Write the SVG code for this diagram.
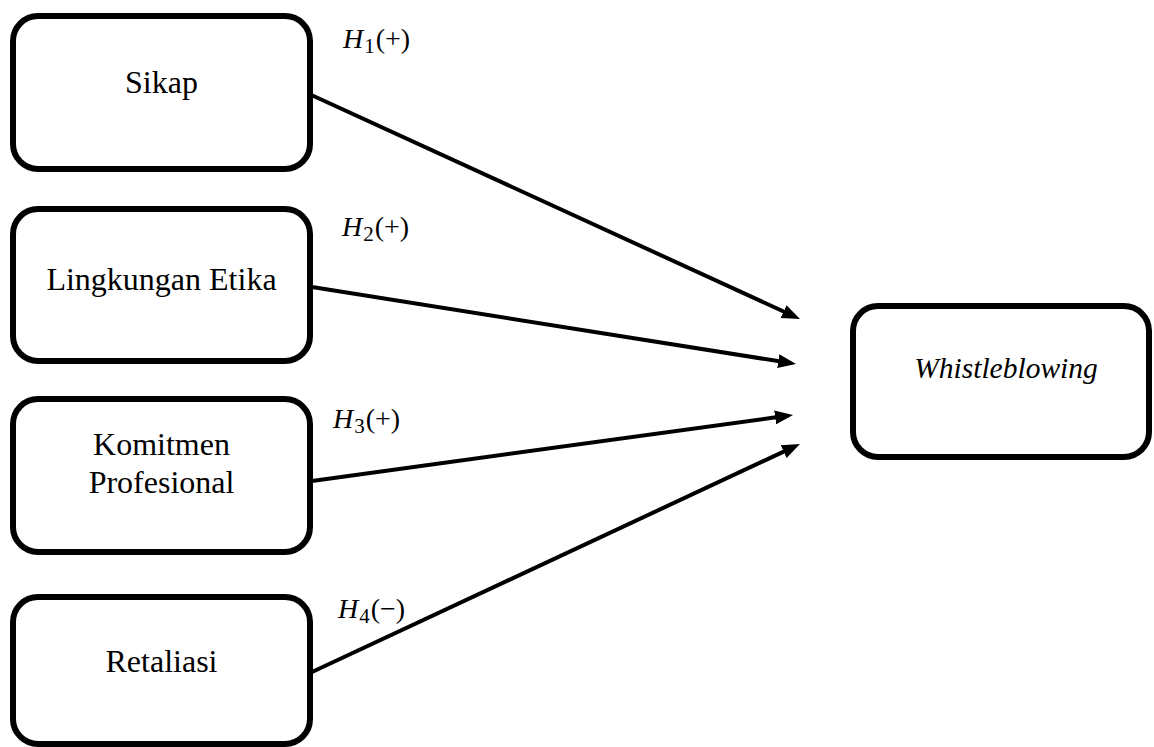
<svg xmlns="http://www.w3.org/2000/svg" width="1154" height="747" viewBox="0 0 1154 747">
<style>
.box{fill:#fff;stroke:#000;stroke-width:6}
.lbl{font-family:"Liberation Serif","Times New Roman",serif;font-size:32px;fill:#000;text-anchor:middle}
.it{font-style:italic}
.h{font-family:"Liberation Serif","Times New Roman",serif;font-size:28px;fill:#000}
.conn{stroke:#000;stroke-width:4;fill:none;marker-end:url(#ah)}
</style>
<defs>
<marker id="ah" viewBox="0 0 18 14" markerWidth="18" markerHeight="14" markerUnits="userSpaceOnUse" refX="6" refY="7" orient="auto">
<path d="M0,0 L18,7 L0,14 Z" fill="#000"/>
</marker>
</defs>
<rect width="1154" height="747" fill="#fff"/>
<g id="connectors">
<line class="conn" x1="307" y1="93" x2="789.1" y2="314"/>
<line class="conn" x1="312" y1="287" x2="784.2" y2="362.1"/>
<line class="conn" x1="312" y1="481" x2="781.1" y2="416.6"/>
<line class="conn" x1="312" y1="672" x2="789.1" y2="449.1"/>
</g>
<g id="sikap">
<rect class="box" x="13" y="16" width="297" height="153" rx="25"/>
<text class="lbl" x="161.5" y="93">Sikap</text>
</g>
<g id="lingkungan">
<rect class="box" x="13" y="209" width="297" height="152" rx="25"/>
<text class="lbl" x="161.5" y="290">Lingkungan Etika</text>
</g>
<g id="komitmen">
<rect class="box" x="13" y="399" width="297" height="153" rx="25"/>
<text class="lbl" x="161.5" y="455">Komitmen</text>
<text class="lbl" x="161.5" y="493">Profesional</text>
</g>
<g id="retaliasi">
<rect class="box" x="13" y="597" width="297" height="147" rx="25"/>
<text class="lbl" x="161.5" y="672">Retaliasi</text>
</g>
<g id="whistleblowing">
<rect class="box" x="853" y="306" width="296" height="151" rx="25"/>
<text class="lbl it" x="1006" y="378" style="font-size:29.5px">Whistleblowing</text>
</g>
<g id="labels">
<text class="h" x="343" y="48"><tspan font-style="italic">H</tspan><tspan font-size="21" dy="5" dx="1">1</tspan><tspan dy="-5" dx="1">(+)</tspan></text>
<text class="h" x="342" y="236"><tspan font-style="italic">H</tspan><tspan font-size="21" dy="5" dx="1">2</tspan><tspan dy="-5" dx="1">(+)</tspan></text>
<text class="h" x="333" y="428"><tspan font-style="italic">H</tspan><tspan font-size="21" dy="5" dx="1">3</tspan><tspan dy="-5" dx="1">(+)</tspan></text>
<text class="h" x="338" y="618"><tspan font-style="italic">H</tspan><tspan font-size="21" dy="5" dx="1">4</tspan><tspan dy="-5" dx="1">(−)</tspan></text>
</g>
</svg>
